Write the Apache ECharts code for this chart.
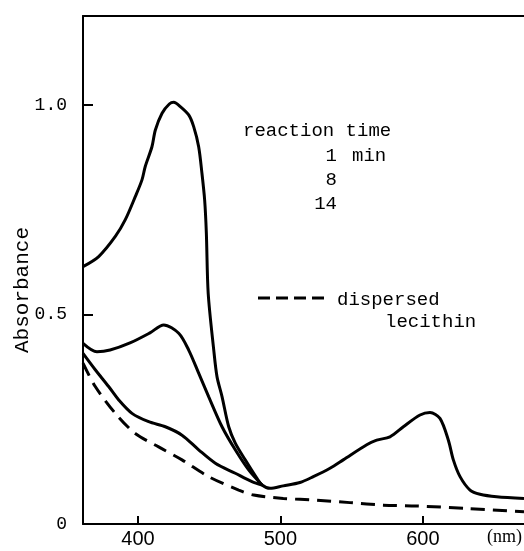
<!DOCTYPE html>
<html><head><meta charset="utf-8">
<script src="https://cdn.jsdelivr.net/npm/echarts@6/dist/echarts.min.js"></script>
<style>html,body{margin:0;padding:0;background:#fff}#c{width:524px;height:551px}</style>
</head><body><div id="c"></div>
<script>
// wavelength (nm) and absorbance arrays
const nm1 = [361.4,372.4,384.1,391.1,398.1,402.8,405.1,409.8,412.2,416.9,422.0,425.1,429.7,435.6,439.1,442.6,444.9,446.8,448.0,449.3,453.2,455.5,459.0,463.7,468.3,475.3,483.3,487.1,492.7,502.0,513.7,523.1,534.8,544.1,560.6,567.6,576.9,586.3,598.0,605.0,612.0,617.9,621.4,626.1,633.1,640.1,651.8,671];
const abs1 = [0.614,0.638,0.686,0.726,0.781,0.821,0.853,0.900,0.940,0.980,1.002,1.006,0.996,0.976,0.948,0.900,0.837,0.773,0.694,0.550,0.415,0.351,0.304,0.232,0.193,0.153,0.110,0.093,0.085,0.091,0.099,0.113,0.133,0.153,0.189,0.200,0.208,0.232,0.260,0.266,0.252,0.200,0.153,0.113,0.081,0.071,0.065,0.061];
const nm8 = [361.4,371.2,380.4,394.4,408.4,418.1,428.6,435.6,442.6,449.6,459.0,468.3,477.7,487.1];
const abs8 = [0.431,0.411,0.415,0.432,0.456,0.475,0.455,0.415,0.360,0.304,0.232,0.177,0.129,0.093];
const nm14 = [361.4,370.0,379.4,386.5,395.8,407.5,419.2,430.9,442.6,454.3,468.3,480.0,487.1];
const abs14 = [0.407,0.368,0.328,0.296,0.264,0.244,0.232,0.212,0.177,0.145,0.121,0.101,0.093];
const nmL = [361.4,370.0,384.1,398.1,414.5,430.9,449.6,470.7,481.2,502.0,525.5,548.8,572.2,595.7,630.8,671];
const absL = [0.384,0.328,0.264,0.216,0.184,0.153,0.113,0.081,0.069,0.061,0.057,0.051,0.045,0.043,0.037,0.029];
const xTicks = [400,500,600];
const yTicks = [0,0.5,1.0];
const yTickLabels = ['0','0.5','1.0'];

const zip = (a,b)=>a.map((v,i)=>[v,b[i]]);
const mono = '"Liberation Mono","DejaVu Sans Mono",monospace';
const chart = echarts.init(document.getElementById('c'));
const lineS = (data, dashed)=>({
  type:'line', data, showSymbol:false, smooth:0.3, xAxisIndex:0,
  lineStyle:{color:'#000', width:3, type: dashed?[14,8]:'solid'}, silent:true, animation:false
});
chart.setOption({
  animation:false,
  grid:{left:83, top:16, right:0, bottom:27, containLabel:false, outerBoundsMode:'none'},
  xAxis:[{
    type:'value', min:361.4, max:671,
    axisLine:{show:true, onZero:false, lineStyle:{color:'#000', width:2}},
    axisTick:{show:true, inside:true, length:8, lineStyle:{color:'#000', width:2}, customValues:xTicks},
    axisLabel:{customValues:xTicks, color:'#000', fontFamily:'"Liberation Sans",Arial,sans-serif', fontSize:20, margin:5},
    splitLine:{show:false}
  },{
    type:'value', position:'top', min:361.4, max:671,
    axisLine:{show:true, onZero:false, lineStyle:{color:'#000', width:2}},
    axisTick:{show:false}, axisLabel:{show:false}, splitLine:{show:false}
  }],
  yAxis:{
    type:'value', min:0, max:1.212,
    axisLine:{show:true, onZero:false, lineStyle:{color:'#000', width:2}},
    axisTick:{show:true, inside:true, length:10, lineStyle:{color:'#000', width:2}, customValues:yTicks},
    axisLabel:{customValues:yTicks, color:'#000', fontFamily:mono, fontSize:18, margin:16,
      formatter:v=>yTickLabels[yTicks.indexOf(v)] ?? ''},
    splitLine:{show:false}
  },
  series:[
    lineS(zip(nm1,abs1)), lineS(zip(nm8,abs8)), lineS(zip(nm14,abs14)), lineS(zip(nmL,absL), true)
  ],
  graphic:[
    {type:'text', x:22, y:290, rotation:Math.PI/2, style:{text:'Absorbance', font:'21px '+mono, fill:'#000', align:'center', verticalAlign:'middle'}},
    {type:'text', left:243, top:121, style:{text:'reaction time', font:'19px '+mono, fill:'#000'}},
    {type:'text', right:524-337, top:146, style:{text:'1', font:'19px '+mono, fill:'#000'}},
    {type:'text', left:352, top:146, style:{text:'min', font:'19px '+mono, fill:'#000'}},
    {type:'text', right:524-337, top:170, style:{text:'8', font:'19px '+mono, fill:'#000'}},
    {type:'text', right:524-337, top:194, style:{text:'14', font:'19px '+mono, fill:'#000'}},
    {type:'line', shape:{x1:258,y1:298,x2:328,y2:298}, style:{stroke:'#000', lineWidth:3, lineDash:[12,6]}},
    {type:'text', left:337, top:290, style:{text:'dispersed', font:'19px '+mono, fill:'#000'}},
    {type:'text', left:385, top:312, style:{text:'lecithin', font:'19px '+mono, fill:'#000'}},
    {type:'text', left:487, top:528, style:{text:'(nm)', font:'18px "Liberation Serif","DejaVu Serif",serif', fill:'#000'}}
  ]
});
</script></body></html>
